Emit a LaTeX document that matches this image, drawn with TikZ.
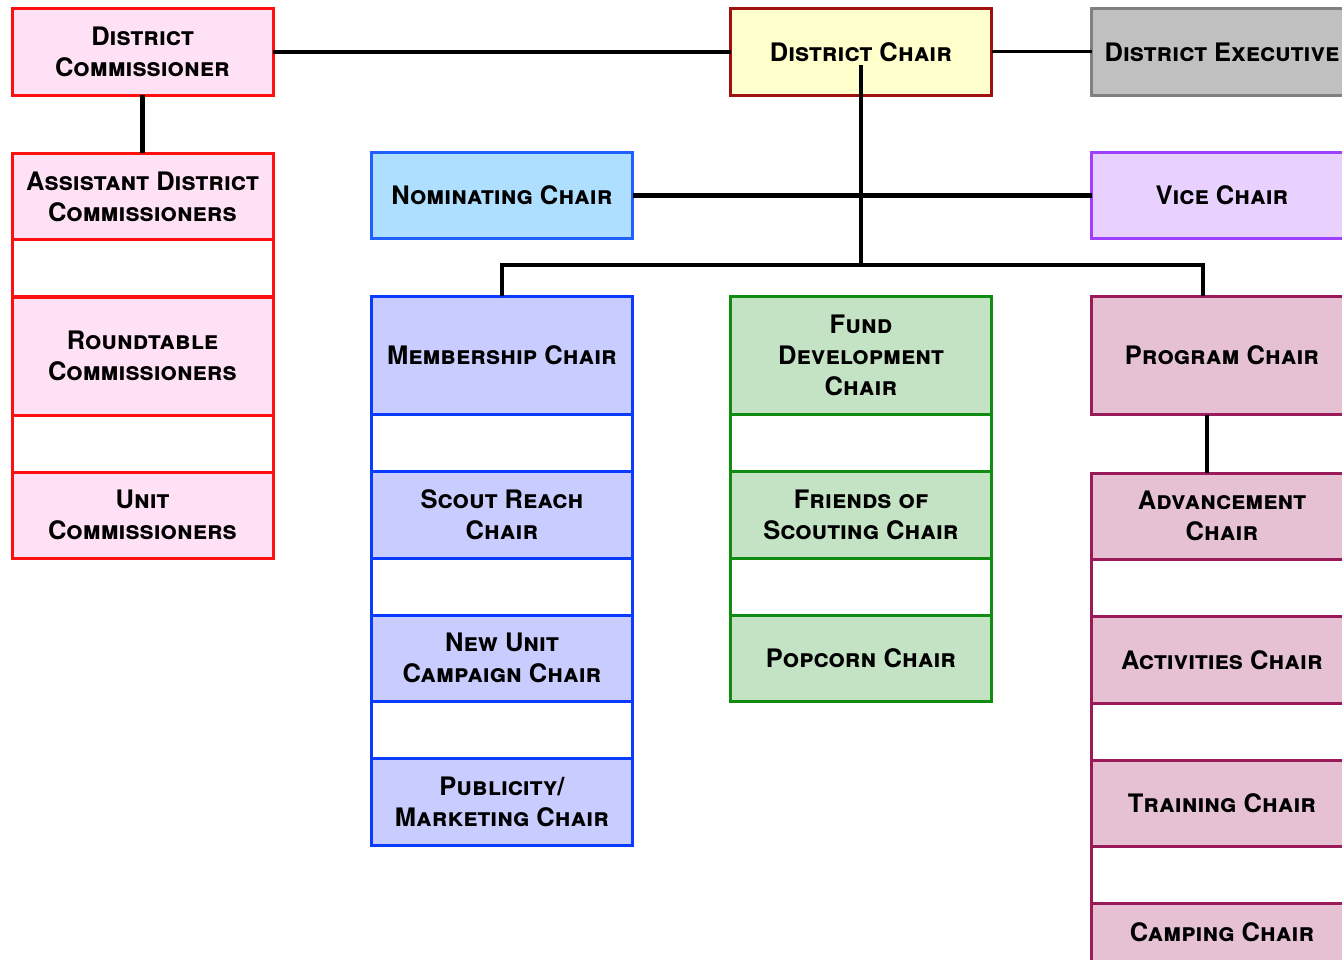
\documentclass[tikz,border=0pt]{standalone}
\usepackage{fontspec}
\setmainfont{TeX Gyre Heros}
\usetikzlibrary{positioning}

\definecolor{commfill}{HTML}{FFE1F5}
\definecolor{commline}{HTML}{FF1010}
\definecolor{chairfill}{HTML}{FFFFCC}
\definecolor{chairline}{HTML}{A01010}
\definecolor{execfill}{HTML}{C0C0C0}
\definecolor{execline}{HTML}{808080}
\definecolor{nomfill}{HTML}{AEDFFF}
\definecolor{nomline}{HTML}{2060FF}
\definecolor{vicefill}{HTML}{E8D0FF}
\definecolor{viceline}{HTML}{A040FF}
\definecolor{memfill}{HTML}{C8CCFF}
\definecolor{memline}{HTML}{0A3CFF}
\definecolor{fundfill}{HTML}{C4E3C4}
\definecolor{fundline}{HTML}{108C10}
\definecolor{progfill}{HTML}{E5C1D3}
\definecolor{progline}{HTML}{9B1A5A}

\begin{document}
\begin{tikzpicture}[x=1pt,y=-1pt,node distance=0pt,
  box/.style={font=\fontsize{25.5}{31}\selectfont\bfseries\scshape, align=center,
    inner sep=0pt, outer sep=0pt, line width=3pt, minimum width=261pt},
  short/.style={box,minimum height=86.5pt},
  tall/.style={box,minimum height=118pt},
  gap/.style={box,fill=white,minimum height=57pt},
  comm/.style={draw=commline,fill=commfill},
  chair/.style={draw=chairline,fill=chairfill},
  exec/.style={draw=execline,fill=execfill},
  nom/.style={draw=nomline,fill=nomfill},
  vice/.style={draw=viceline,fill=vicefill},
  mem/.style={draw=memline,fill=memfill},
  fund/.style={draw=fundline,fill=fundfill},
  prog/.style={draw=progline,fill=progfill},
  conn/.style={line width=4.8pt}]

  \useasboundingbox (0,0) rectangle (1342,960);

  % top row
  \node[comm,short] (dist_comm) at (142.5,52) {District\\Commissioner};
  \node[chair,short] (dist_chair) at (861,52) {District Chair};
  \node[exec,short] (dist_exec) at (1222,52) {District Executive};

  % commissioners
  \node[comm,short,anchor=north] (asst_comm) at (142.5,153.5) {Assistant District\\Commissioners};
  \node[comm,gap] (comm_gap_1) [below=of asst_comm] {};
  \node[comm,tall] (round_comm) [below=of comm_gap_1] {Roundtable\\Commissioners};
  \node[comm,gap] (comm_gap_2) [below=of round_comm] {};
  \node[comm,short] (unit_comm) [below=of comm_gap_2] {Unit\\Commissioners};

  % second row
  \node[nom,short] (nom_chair) at (502,195.5) {Nominating Chair};
  \node[vice,short] (vice_chair) at (1222,195.5) {Vice Chair};

  % membership
  \node[mem,tall,anchor=north] (member) at (502,296.5) {Membership Chair};
  \node[mem,gap] (mem_gap_1) [below=of member] {};
  \node[mem,short] (reach) [below=of mem_gap_1] {Scout Reach\\Chair};
  \node[mem,gap] (mem_gap_2) [below=of reach] {};
  \node[mem,short] (new_unit) [below=of mem_gap_2] {New Unit\\Campaign Chair};
  \node[mem,gap] (mem_gap_3) [below=of new_unit] {};
  \node[mem,short] (publicity) [below=of mem_gap_3] {Publicity/\\Marketing Chair};

  % fund development
  \node[fund,tall,anchor=north] (fund_dev) at (861,296.5) {Fund\\Development\\Chair};
  \node[fund,gap] (fund_gap_1) [below=of fund_dev] {};
  \node[fund,short] (friends) [below=of fund_gap_1] {Friends of\\Scouting Chair};
  \node[fund,gap] (fund_gap_2) [below=of friends] {};
  \node[fund,short] (popcorn) [below=of fund_gap_2] {Popcorn Chair};

  % program
  \node[prog,tall,anchor=north] (program) at (1222,296.5) {Program Chair};
  \node[prog,short,anchor=north] (advance) at (1222,473) {Advancement\\Chair};
  \node[prog,gap] (prog_gap_1) [below=of advance] {};
  \node[prog,short] (activities) [below=of prog_gap_1] {Activities Chair};
  \node[prog,gap] (prog_gap_2) [below=of activities] {};
  \node[prog,short] (training) [below=of prog_gap_2] {Training Chair};
  \node[prog,gap] (prog_gap_3) [below=of training] {};
  \node[prog,box,minimum height=64pt,anchor=north] (camping) at (1222,903.5) {\raisebox{6pt}{Camping Chair}};

  \path[conn]
  (dist_comm) edge (dist_chair)
              edge (asst_comm)
  (dist_chair) edge [line width=3pt] (dist_exec)
  (nom_chair) edge (vice_chair);

  \coordinate (bus) at (861,265);
  \draw[conn] ([yshift=-13pt]dist_chair.center) -- (bus);
  \draw[conn] (member.north) |- (bus) -| ([xshift=-19pt]program.north);
  \draw[conn] ([xshift=-15pt]program.south) -- ([xshift=-15pt]advance.north);
\end{tikzpicture}
\end{document}
